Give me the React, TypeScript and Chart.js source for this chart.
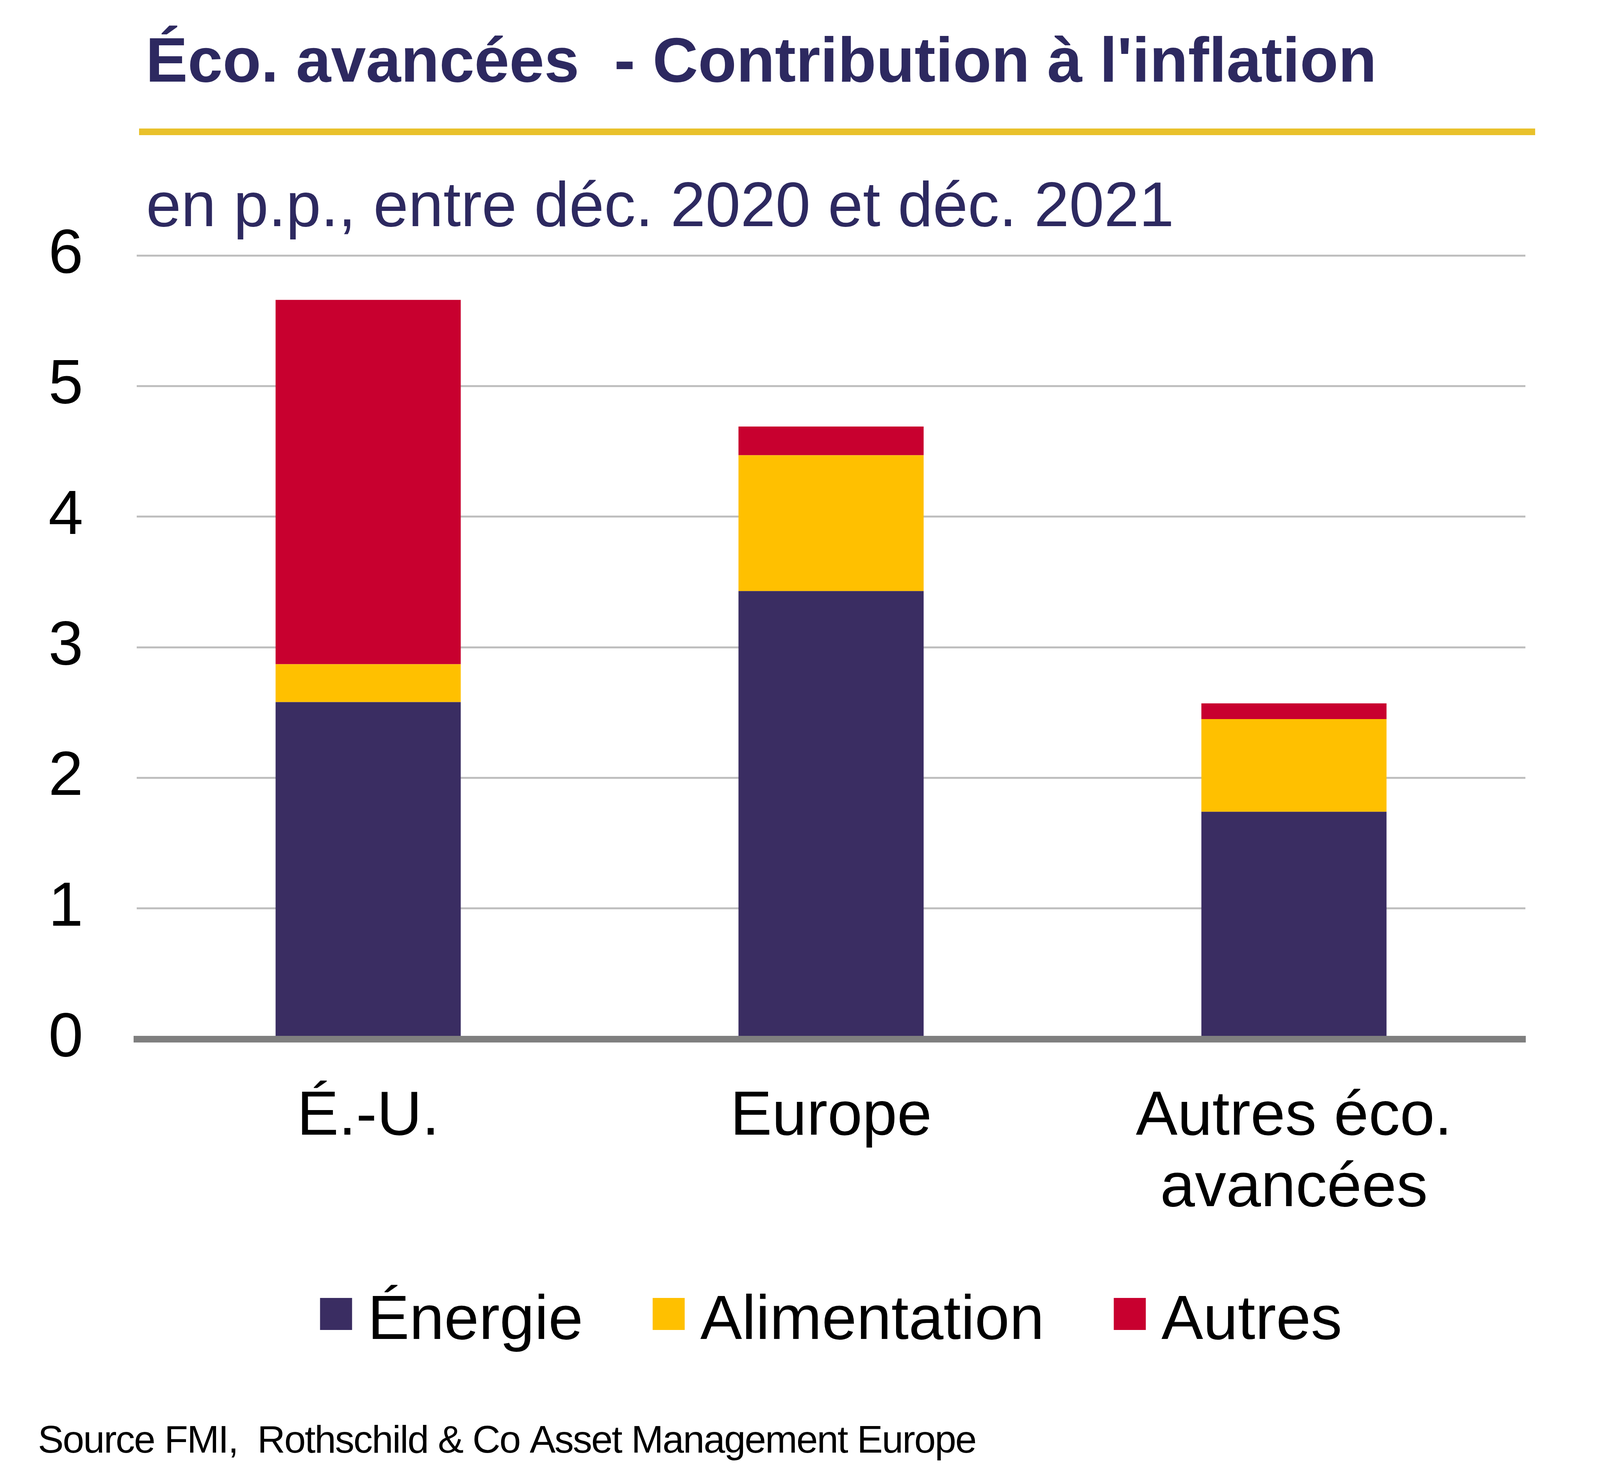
import { Chart, registerables } from 'chart.js';
import { useEffect, useRef } from 'react';

Chart.register(...registerables);

const W = 4224;
const H = 3784;
const FONT = "'Liberation Sans', Arial, sans-serif";

const categories = [['É.-U.'], ['Europe'], ['Autres éco.', 'avancées']];
const seriesNames = ['Énergie', 'Alimentation', 'Autres'];
const energie = [2.58, 3.43, 1.74];
const alimentation = [0.29, 1.04, 0.71];
const autres = [2.79, 0.22, 0.12];
const seriesColors = ['#3A2D62', '#FFC000', '#C8002F'];

const title = "Éco. avancées  - Contribution à l'inflation";
const subtitle = 'en p.p., entre déc. 2020 et déc. 2021';
const source = 'Source FMI,  Rothschild & Co Asset Management Europe';

// title, yellow rule, subtitle, legend and source note
const decorPlugin = {
  id: 'decor',
  afterDraw(chart: Chart) {
    const { ctx, chartArea } = chart;
    const c = ctx as any;
    ctx.save();
    ctx.textAlign = 'left';
    ctx.textBaseline = 'alphabetic';

    ctx.fillStyle = '#2D2960';
    ctx.font = `bold 161px ${FONT}`;
    ctx.fillText(title, 373, 209);

    ctx.fillStyle = '#E9C12B';
    ctx.fillRect(356, 329, 3574, 17);

    ctx.fillStyle = '#2D2960';
    ctx.font = `161px ${FONT}`;
    ctx.fillText(subtitle, 374, 579);

    // legend
    const box = 82;
    const gap = 40;
    const itemGap = 178;
    ctx.font = `160px ${FONT}`;
    const items = chart.data.datasets.map((ds) => ({
      label: ds.label as string,
      color: ds.backgroundColor as string,
      w: ctx.measureText(ds.label as string).width,
    }));
    const total =
      items.reduce((s, it) => s + box + gap + it.w, 0) + itemGap * (items.length - 1);
    let x = (chartArea.left + chartArea.right) / 2 - total / 2;
    for (const it of items) {
      ctx.fillStyle = it.color;
      ctx.fillRect(x, 3323, box, box);
      ctx.fillStyle = '#000';
      ctx.fillText(it.label, x + box + gap, 3428);
      x += box + gap + it.w + itemGap;
    }

    ctx.fillStyle = '#000';
    ctx.font = `99px ${FONT}`;
    c.letterSpacing = '-2.5px';
    ctx.fillText(source, 97, 3719);
    c.letterSpacing = '0px';
    ctx.restore();
  },
};

const App: React.FC = () => {
  const ref = useRef<HTMLCanvasElement>(null);
  const chartInstance = useRef<Chart | null>(null);

  useEffect(() => {
    document.body.style.margin = '0';
    if (!ref.current) return;
    const ctx = ref.current.getContext('2d');
    if (!ctx) return;
    if (chartInstance.current) {
      chartInstance.current.destroy();
    }
    Chart.defaults.font.family = FONT;

    const values = [energie, alimentation, autres];

    chartInstance.current = new Chart(ctx, {
      type: 'bar',
      data: {
        labels: categories,
        datasets: seriesNames.map((name, i) => ({
          label: name,
          data: values[i],
          backgroundColor: seriesColors[i],
          borderWidth: 0,
          barPercentage: 0.4,
          categoryPercentage: 1,
        })),
      },
      options: {
        responsive: false,
        devicePixelRatio: 1,
        animation: false,
        layout: { padding: { left: 124, right: 319, top: 654, bottom: 524 } },
        plugins: {
          legend: { display: false },
          tooltip: { enabled: false },
          title: { display: false },
        },
        scales: {
          x: {
            stacked: true,
            grid: { display: false, drawTicks: false, tickLength: 0 },
            border: { display: true, color: '#7F7F7F', width: 17, z: 1 },
            ticks: {
              color: '#000',
              padding: 110,
              maxRotation: 0,
              autoSkip: false,
              font: { size: 160, lineHeight: 1.14 },
            },
            afterFit: (s: any) => {
              s.height = 600;
            },
          },
          y: {
            stacked: true,
            min: 0,
            max: 6,
            border: { display: false },
            grid: {
              color: (c: any) => (c.tick && c.tick.value === 0 ? 'rgba(0,0,0,0)' : '#BFBFBF'),
              lineWidth: 5,
              drawTicks: false,
              tickLength: 0,
            },
            ticks: {
              stepSize: 1,
              color: '#000',
              padding: 137,
              font: { size: 160 },
            },
            afterFit: (s: any) => {
              s.width = 226;
            },
          },
        },
      },
      plugins: [decorPlugin],
    });

    return () => {
      if (chartInstance.current) {
        chartInstance.current.destroy();
        chartInstance.current = null;
      }
    };
  }, []);

  return (
    <canvas
      ref={ref}
      width={W}
      height={H}
      style={{ display: 'block', width: W, height: H }}
    ></canvas>
  );
};

export default App;
